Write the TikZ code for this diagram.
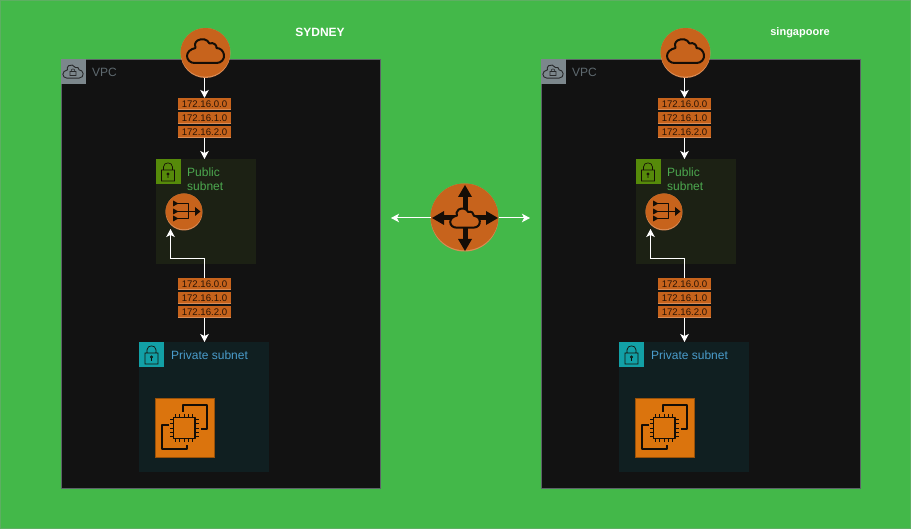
\documentclass[tikz,border=0pt]{standalone}
\usepackage{fontspec}
\setmainfont{Liberation Sans}
\usetikzlibrary{arrows.meta,calc}
\definecolor{bggreen}{HTML}{43B849}
\definecolor{bgedge}{HTML}{5DAF62}
\definecolor{vpcfill}{HTML}{121212}
\definecolor{vpcicon}{HTML}{7C878C}
\definecolor{vpctext}{HTML}{5F6A70}
\definecolor{awsor}{HTML}{C7631C}
\definecolor{awsrim}{HTML}{DB8C55}
\definecolor{ipink}{HTML}{2A1405}
\definecolor{pubfill}{HTML}{1C2114}
\definecolor{pubicon}{HTML}{568A0A}
\definecolor{pubtext}{HTML}{4CA84F}
\definecolor{prifill}{HTML}{101F21}
\definecolor{priicon}{HTML}{12A0A6}
\definecolor{pritext}{HTML}{4A9CCB}
\definecolor{ecfill}{HTML}{DB740D}
\definecolor{glyph}{HTML}{140D06}
\newcommand\cloudshape{(-11,12) -- (11,12) .. controls (16,12) and (19,8) .. (18.5,4) .. controls (18,0) and (15,-3) .. (11,-3) .. controls (11.5,-6) and (8,-9) .. (4,-7.5) .. controls (2,-12) and (-4,-13) .. (-8,-10.5) .. controls (-11,-8.5) and (-11,-5) .. (-10,-3) .. controls (-15,-2) and (-18.5,1) .. (-18.5,5) .. controls (-18.5,9) and (-15,12) .. (-11,12) -- cycle}
\newcommand\lockshape{(-6.5,-1.5) rectangle (6.5,9.5) (-4.5,-1.5) -- (-4.5,-4.5) .. controls (-4.5,-10) and (4.5,-10) .. (4.5,-4.5) -- (4.5,-1.5) (0,2.5) circle (1.1) (0,3.6) -- (0,6.5)}
\tikzset{
  x=1pt,y=-1pt,
  region/.style={anchor=north west,inner sep=0pt,outer sep=0pt},
  vpcbox/.style={region,draw=vpcicon!70!vpcfill,line width=.3pt,fill=vpcfill,minimum width=319pt,minimum height=429pt},
  iconbox/.style={region,minimum size=25pt},
  pubbox/.style={region,fill=pubfill,minimum width=100pt,minimum height=105pt},
  pribox/.style={region,fill=prifill,minimum width=130pt,minimum height=130pt},
  disc/.style={circle,inner sep=0pt,outer sep=0pt,minimum size=2*#1 pt,fill=awsrim,
    path picture={\fill[awsor] ([yshift=1.3pt]path picture bounding box.center) circle (#1pt);}},
  ipblock/.style={rectangle,inner sep=0pt,outer sep=0pt,minimum width=53pt,minimum height=12.5pt,fill=awsrim,
    text=ipink,font=\fontsize{9.6}{10}\selectfont,
    path picture={\fill[awsor] ([yshift=1.2pt]path picture bounding box.south west) rectangle (path picture bounding box.north east);}},
  label/.style={anchor=west,inner sep=0pt,align=left},
  flow/.style={draw=white,line width=1pt,-{Stealth[length=8pt,width=8.5pt,inset=2pt]}},
  ink/.style={draw=glyph,line width=1.7pt,line join=round},
  pics/cloudmark/.style={code={\draw[ink,line width=2pt,fill=awsor] \cloudshape;}},
  pics/vpccloud/.style={code={\draw[draw=vpcfill!80!vpcicon,line width=.9pt] \cloudshape;}},
  pics/lockmark/.style={code={\draw[draw=#1,line width=.7pt] \lockshape;}},
}
\begin{document}
\begin{tikzpicture}
\useasboundingbox (0,0) rectangle (911,529);
\fill[bggreen] (0,0) rectangle (911,529);
\draw[bgedge,line width=1pt] (0.5,0.5) rectangle (910.5,528.5);
\foreach \ox/\s/\ttl/\tx/\ty/\tsz in {0/a/SYDNEY/320/32/12,480/b/singapoore/320/33/11}{
\begin{scope}[xshift=\ox pt]
  \node[vpcbox] (vpc\s) at (61,59) {};
  \node[iconbox,fill=vpcicon] (vpcicon\s) at (61,59) {};
  \pic[scale=.55] at (73,71.5) {vpccloud};
  \draw[draw=vpcfill!80!vpcicon,line width=.6pt,fill=vpcicon] (70,71.5) rectangle (76,75.5) (71,71.5) .. controls (71,68) and (75,68) .. (75,71.5);
  \node[label,text=vpctext,font=\fontsize{12}{14}\selectfont] (vpctxt\s) at (92,72) {VPC};
  \node[font=\bfseries\fontsize{\tsz}{13}\selectfont,text=white] (title\s) at (\tx,\ty) {\ttl};
  \node[pubbox] (pub\s) at (155.5,159) {};
  \node[iconbox,fill=pubicon] (pubicon\s) at (155.5,159) {};
  \pic at (168,171.5) {lockmark=glyph};
  \node[label,text=pubtext,font=\fontsize{12}{14}\selectfont] (pubtxt\s) at (187,179.5) {Public\\subnet};
  \node[pribox] (pri\s) at (139,342) {};
  \node[iconbox,fill=priicon] (priicon\s) at (139,342) {};
  \pic at (151.5,354.5) {lockmark=glyph};
  \node[label,text=pritext,font=\fontsize{12}{14}\selectfont] (pritxt\s) at (171,355.5) {Private subnet};
  \node[disc=25] (igw\s) at (205.5,53) {};
  \pic at (205.5,51) {cloudmark};
  \node[ipblock] (ipa\s) at (204.5,104.2) {172.16.0.0};
  \node[ipblock] (ipb\s) at (204.5,118) {172.16.1.0};
  \node[ipblock] (ipc\s) at (204.5,131.8) {172.16.2.0};
  \node[ipblock] (ipd\s) at (204.5,284.2) {172.16.0.0};
  \node[ipblock] (ipe\s) at (204.5,298) {172.16.1.0};
  \node[ipblock] (ipf\s) at (204.5,311.8) {172.16.2.0};
  \node[disc=18.5] (nat\s) at (184,212) {};
  \draw[ink,line width=1.5pt] (176,203.5) -- (188.5,203.5) -- (188.5,211.5) (176,218.5) -- (188.5,218.5) -- (188.5,211.5) (176,211.5) -- (197,211.5);
  \fill[glyph] (173,200.5) -- (178.5,203.5) -- (173,206.5) -- cycle (173,208.5) -- (178.5,211.5) -- (173,214.5) -- cycle (173,215.5) -- (178.5,218.5) -- (173,221.5) -- cycle (195,207) -- (200.5,211.5) -- (195,216) -- cycle;
  \node[region,fill=ecfill,draw=ecfill!70!black,line width=.4pt,minimum size=59pt] (ec\s) at (155,398) {};
  \draw[ink] (182.7,411.7) -- (182.7,405) -- (207.3,405) -- (207.3,429.3) -- (201,429.3);
  \draw[ink] (169.3,425) -- (162.3,425) -- (162.3,449.3) -- (186.7,449.3) -- (186.7,445);
  \draw[ink] (173.5,417.5) rectangle (195,438.5);
  \foreach \p in {0,...,4}{
    \draw[draw=glyph,line width=1pt] ($(175.5,417.5)+(\p*4.3,0)$) -- ++(0,-3.5) ($(175.5,438.5)+(\p*4.3,0)$) -- ++(0,3.5)
      ($(173.5,419.5)+(0,\p*4.3)$) -- ++(-3.5,0) ($(195,419.5)+(0,\p*4.3)$) -- ++(3.5,0);
  }
  \coordinate (natin\s) at (170.5,229);
  \coordinate (bend\s) at (170.5,258.5);
  \draw[flow] (igw\s.south -| ipa\s.north) -- (ipa\s.north);
  \draw[flow] (ipc\s.south) -- (ipc\s.south |- pub\s.north);
  \draw[flow] (ipd\s.north) |- (bend\s) -- (natin\s);
  \draw[flow] (ipf\s.south) -- (ipf\s.south |- pri\s.north);
\end{scope}
}
\node[disc=34] (tgw) at (464.5,217.5) {};
\coordinate (tgwc) at (465,218);
\coordinate (leftend) at (391,218);
\coordinate (rightend) at (530,218);
\foreach \dx/\dy in {0/-1,0/1,-1/0,1/0}{
  \draw[draw=glyph,line width=5pt] (tgwc) -- ($(tgwc)+(\dx*24,\dy*24)$);
  \fill[glyph] ($(tgwc)+(\dx*33,\dy*33)$) -- ($(tgwc)+(\dx*21,\dy*21)+(\dy*7,\dx*7)$) -- ($(tgwc)+(\dx*21,\dy*21)-(\dy*7,\dx*7)$) -- cycle;
}
\pic[scale=.8] at (465,218) {cloudmark};
\draw[flow] (tgw.west |- tgwc) -- (leftend);
\draw[flow] (tgw.east |- tgwc) -- (rightend);
\end{tikzpicture}
\end{document}
